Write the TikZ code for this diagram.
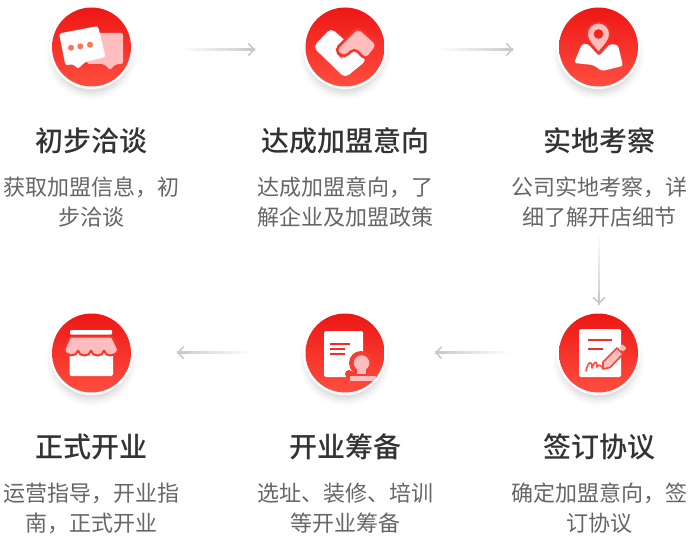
\documentclass[tikz,border=0pt]{standalone}
\usepackage{fontspec}
\setmainfont{Noto Sans CJK SC}
\newfontfamily\titlefont{Noto Sans CJK SC Medium}
\usetikzlibrary{calc,arrows.meta}
\definecolor{rtop}{HTML}{ED1715}
\definecolor{rbot}{HTML}{FF4E40}
\definecolor{arrowgray}{HTML}{C9C9C9}
\definecolor{titlecol}{HTML}{333333}
\definecolor{bodycol}{HTML}{666666}
\definecolor{palepink}{HTML}{FFBDBD}
\definecolor{dotcol}{HTML}{FF7452}
\tikzset{
  x=1pt,y=-1pt,
  titletext/.style={font=\titlefont\fontsize{28}{30}\selectfont,text=titlecol,anchor=center,inner sep=0pt},
  bodytext/.style={font=\fontsize{22}{30}\selectfont,text=bodycol,anchor=center,inner sep=0pt,align=center},
  pale/.style={fill=palepink,draw=none},
  solidw/.style={fill=white,draw=none},
  conn/.style={draw=arrowgray,line width=1.6pt,-{Straight Barb[length=5.5pt,width=12pt]}},
  fadeE/.style={left color=white,middle color=arrowgray,right color=arrowgray},
  fadeW/.style={right color=white,middle color=arrowgray,left color=arrowgray},
  fadeS/.style={top color=white,middle color=arrowgray,bottom color=arrowgray},
}
\newcommand{\badge}[2]{%
  \foreach \r/\o in {46/.012,44/.018,42/.024,40/.03,38/.035}{
    \fill[black,opacity=\o] ($(#2)+(0,7)$) circle[radius=\r];
  }
  \node[circle,fill=white,minimum size=84pt,inner sep=0pt] (#1) at (#2) {};
  \shade[top color=rtop,bottom color=rbot] (#2) circle[radius=39.5];
}
% start, end, fade style, half-width vector
\newcommand{\fadeline}[4]{%
  \shade[#3] ($(#1)-(#4)$) rectangle ($(#2)+(#4)$);
  \draw[conn] ($(#1)!.85!(#2)$) -- (#2);
}
\begin{document}
\begin{tikzpicture}
\useasboundingbox (0,0) rectangle (690,537);
\fill[white] (0,0) rectangle (690,537);
\badge{b1}{91.5,47}
\badge{b2}{345,47}
\badge{b3}{598.5,47}
\badge{b4}{598.5,353}
\badge{b5}{345,353}
\badge{b6}{91.5,353}
% connectors
\coordinate (a1s) at (180,49.5); \coordinate (a1e) at (255,49.5);
\coordinate (a2s) at (437,49.5); \coordinate (a2e) at (513,49.5);
\coordinate (a3s) at (599,232); \coordinate (a3e) at (599,304);
\coordinate (a4s) at (510,352.7); \coordinate (a4e) at (435,352.7);
\coordinate (a5s) at (252,352.7); \coordinate (a5e) at (177,352.7);
\fadeline{a1s}{a1e}{fadeE}{0,.8}
\fadeline{a2s}{a2e}{fadeE}{0,.8}
\fadeline{a3s}{a3e}{fadeS}{.8,0}
\fadeline{a4s}{a4e}{fadeW}{0,.8}
\fadeline{a5s}{a5e}{fadeW}{0,.8}
% icon 1: chat
\fill[pale,rounded corners=2pt] (85,33) -- (123,33) -- (123,64) -- (116,64) -- (110,70) -- (104,64) -- (87,64) -- cycle;
\fill[solidw,rounded corners=2.5pt] (59,33.5) -- (98,26) -- (105.5,57) -- (85,62) -- (78,69) -- (73,64) -- (65.5,65.5) -- cycle;
\fill[dotcol] (71,47.7) circle[radius=3] (80.3,46.3) circle[radius=3] (90,44.7) circle[radius=3];
% icon 2: handshake
\fill[solidw,rounded corners=5pt] (313,47) -- (331,28) -- (367,60) -- (345,78) -- cycle;
\filldraw[fill=palepink,draw=rtop!45!rbot,line width=2.5pt,rounded corners=5pt] (335,50) -- (358,27) -- (378,45) -- (366,60) -- (354,48) -- (347,56) -- (341,56) -- cycle;
% icon 3: map + pin
\fill[solidw,rounded corners=2.5pt] (582,44) -- (588,44) -- (599,56) -- (610,44) -- (618,45) -- (623,66) -- (602,71) -- (593,65) -- (574,63) -- cycle;
\filldraw[fill=palepink,draw=rtop!50!rbot,line width=1.8pt] (598.5,53) .. controls (593,46) and (587,41) .. (587,34) arc[start angle=180,end angle=360,radius=11.5] .. controls (610,41) and (604,46) .. (598.5,53) -- cycle;
\fill[rtop!75!rbot] (598.5,34) circle[radius=4.8];
% icon 4: contract
\fill[solidw,rounded corners=1.5pt] (579,329) -- (621,329) -- (621,377) -- (579,377) -- cycle;
\draw[rtop!60!rbot,line width=1.7pt] (588,340) -- (612,340) (588,348.7) -- (603,348.7);
\draw[rbot,line width=1.6pt,line join=round,line cap=round] (586,371) .. controls (588,362) and (592,359) .. (592,368) .. controls (594,362) and (597,359) .. (597,367) .. controls (599,364) and (600,365) .. (602,367);
\filldraw[fill=palepink,draw=rbot!80!rtop,line width=1.6pt,line join=round] (603,369) -- (603,362) -- (617,348) -- (623,354) -- (610,367.5) -- cycle;
\fill[pale,rounded corners=1pt] (619,347) -- (622,344) -- (626.5,348) -- (623,352) -- cycle;
% icon 5: document + stamp
\fill[solidw,rounded corners=1.5pt] (324,331) -- (363,331) -- (363,377) -- (324,377) -- cycle;
\draw[rtop!60!rbot,line width=1.7pt] (330,343.7) -- (350,343.7) (330,348.7) -- (345,348.7) (330,353.7) -- (345,353.7);
\fill[rbot!65!rtop] (361,363) circle[radius=12] (349,374) circle[radius=4];
\fill[rbot!65!rtop] (346,372) rectangle (364,378);
\fill[pale] (361.5,363) circle[radius=7.8];
\fill[pale] (357,366) rectangle (366,373.5);
\begin{scope}
\clip (345,353) circle[radius=39.5];
\fill[pale] (349.5,376) rectangle (376,381);
\end{scope}
% icon 6: store
\fill[solidw,rounded corners=1pt] (70,330) rectangle (112,334.5);
\fill[solidw,rounded corners=2pt] (69.5,350) rectangle (113,376);
\filldraw[fill=palepink,draw=rtop!45!rbot,line width=2pt,rounded corners=1pt] (70,336.5) -- (112,336.5) -- (118,349) .. controls (117,357) and (105,357) .. (104,350) .. controls (103,357) and (92,357) .. (91,350) .. controls (90,357) and (79,357) .. (78,350) .. controls (77,357) and (65,357) .. (64.5,349) -- cycle;
% text
\node[titletext] (t1) at (91,140.5) {初步洽谈};
\node[titletext] (t2) at (345,140.5) {达成加盟意向};
\node[titletext] (t3) at (599,140.5) {实地考察};
\node[titletext] (t4) at (599,446.5) {签订协议};
\node[titletext] (t5) at (345,446.5) {开业筹备};
\node[titletext] (t6) at (91,446.5) {正式开业};
\node[bodytext] (d1) at (91,202) {获取加盟信息，初\\步洽谈};
\node[bodytext] (d2) at (345,202) {达成加盟意向，了\\解企业及加盟政策};
\node[bodytext] (d3) at (599,202) {公司实地考察，详\\细了解开店细节};
\node[bodytext] (d4) at (599,508) {确定加盟意向，签\\订协议};
\node[bodytext] (d5) at (345,508) {选址、装修、培训\\等开业筹备};
\node[bodytext] (d6) at (91,508) {运营指导，开业指\\南，正式开业};
\end{tikzpicture}
\end{document}
